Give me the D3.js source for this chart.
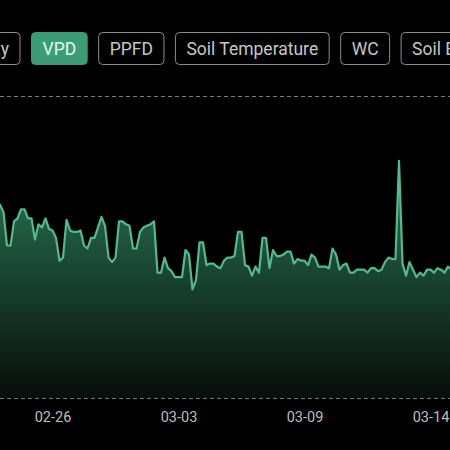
<!DOCTYPE html>
<html>
<head>
<meta charset="utf-8">
<script src="https://cdnjs.cloudflare.com/ajax/libs/d3/7.8.5/d3.min.js"></script>
<style>
  html, body { margin: 0; padding: 0; background: #000; overflow: hidden; }
  svg { display: block; font-family: Roboto, "Noto Sans", sans-serif; }
</style>
</head>
<body>
<div id="chart"></div>
<script>
// tabs across the top (the selected one is VPD)
var tabs = ["Temperature", "Humidity", "VPD", "PPFD", "Soil Temperature", "WC", "Soil EC"];
var activeTab = "VPD";

// VPD readings (kPa), one per sample
var vpd = [
  1.23, 1.28, 1.23, 1.01, 1.01, 1.17, 1.19, 1.25, 1.25, 1.19,
  1.19, 1.05, 1.15, 1.13, 1.19, 1.12, 1.11, 1.06, 0.91, 0.93,
  1.18, 1.11, 1.10, 1.10, 1.11, 1.01, 0.99, 1.06, 1.06, 1.13,
  1.20, 1.14, 0.93, 0.90, 0.93, 1.17, 1.17, 1.15, 1.14, 0.99,
  0.99, 1.10, 1.13, 1.14, 1.15, 1.17, 0.83, 0.83, 0.93, 0.86,
  0.84, 0.80, 0.80, 0.80, 0.98, 0.95, 0.72, 0.78, 1.03, 1.03,
  0.88, 0.89, 0.89, 0.87, 0.86, 0.91, 0.93, 0.93, 0.94, 1.10,
  1.10, 0.88, 0.87, 0.81, 0.87, 0.83, 1.06, 1.06, 0.86, 0.98,
  0.94, 0.94, 0.95, 0.97, 0.97, 0.89, 0.92, 0.91, 0.91, 0.88,
  0.95, 0.93, 0.87, 0.87, 0.87, 0.86, 0.99, 0.95, 0.85, 0.88,
  0.89, 0.83, 0.83, 0.85, 0.85, 0.85, 0.83, 0.86, 0.86, 0.84,
  0.85, 0.90, 0.93, 0.92, 0.92, 1.57, 0.89, 0.81, 0.90, 0.85,
  0.80, 0.83, 0.81, 0.85, 0.85, 0.83, 0.86, 0.85, 0.83, 0.87,
  0.85
];

// x-axis labels and the sample they sit under
var tickLabels = ["02-26", "03-03", "03-09", "03-14"];
var tickIndex = [16, 52, 88, 124];

var width = 450, height = 450;
var plotTop = 96, plotBottom = 398;

var svg = d3.select("#chart").append("svg")
    .attr("width", width)
    .attr("height", height)
    .style("background-color", "#000");

// scales
var x = d3.scaleLinear().domain([16, 124]).range([52.5, 430.5]);
var y = d3.scaleLinear().domain([0, 2]).range([plotBottom, plotTop]);

// gradient under the line
var defs = svg.append("defs");
var grad = defs.append("linearGradient")
    .attr("id", "vpd-fill")
    .attr("gradientUnits", "userSpaceOnUse")
    .attr("x1", 0).attr("x2", 0)
    .attr("y1", plotTop).attr("y2", plotBottom);
grad.append("stop").attr("offset", "0%").attr("stop-color", "#33946b");
grad.append("stop").attr("offset", "100%").attr("stop-color", "#070d0a");

// dashed grid lines (top and bottom)
svg.append("g")
    .attr("class", "y-grid")
    .selectAll("line")
    .data(y.domain())
  .enter().append("line")
    .attr("x1", 0).attr("x2", width)
    .attr("y1", function(d) { return Math.round(y(d)) + 0.5; })
    .attr("y2", function(d) { return Math.round(y(d)) + 0.5; })
    .style("stroke", "#7a7a7a")
    .style("stroke-width", 1)
    .style("stroke-dasharray", "4,3");

// area + line
var area = d3.area()
    .x(function(d, i) { return x(i); })
    .y0(y(0))
    .y1(function(d) { return y(d); });

var valueline = d3.line()
    .x(function(d, i) { return x(i); })
    .y(function(d) { return y(d); });

svg.append("path")
    .datum(vpd)
    .attr("d", area)
    .style("fill", "url(#vpd-fill)");

svg.append("path")
    .datum(vpd)
    .attr("d", valueline)
    .style("fill", "none")
    .style("stroke", "#52ba8c")
    .style("stroke-width", 2.2)
    .style("stroke-linejoin", "round");

// x axis labels
var xAxis = svg.append("g")
    .attr("class", "x axis")
    .attr("transform", "translate(0," + plotBottom + ")")
    .call(
      d3.axisBottom(x)
        .tickValues(tickIndex)
        .tickSize(0)
        .tickPadding(14)
        .tickFormat(function(d, i) { return tickLabels[i]; })
    );
xAxis.select(".domain").remove();
xAxis.selectAll("text")
    .style("font-family", "Roboto, sans-serif")
    .style("font-size", "14.5px")
    .style("fill", "#bdbdbd");

// tab buttons
var tabG = svg.append("g").attr("class", "tabs");
var btn = tabG.selectAll("g")
    .data(tabs)
  .enter().append("g");

btn.append("rect")
    .attr("y", 32.5)
    .attr("height", 32)
    .attr("rx", 4)
    .style("fill", function(d) { return d == activeTab ? "#3a9d75" : "none"; })
    .style("stroke", function(d) { return d == activeTab ? "#3a9d75" : "#8c8c8c"; })
    .style("stroke-width", 1);

btn.append("text")
    .attr("y", 54.5)
    .attr("text-anchor", "middle")
    .style("font-size", "17.5px")
    .style("fill", function(d) { return d == activeTab ? "#e4fbf0" : "#c6c6c6"; })
    .text(function(d) { return d; });

// lay the buttons out left to right, with VPD's box starting at x=31
var pad = 11, gap = 11.5;
var widths = [];
btn.select("text").each(function() { widths.push(this.getComputedTextLength() + 2 * pad); });
var active = tabs.indexOf(activeTab);
var lefts = [];
lefts[active] = 31.5;
for (var i = active + 1; i < tabs.length; i++) lefts[i] = lefts[i - 1] + widths[i - 1] + gap;
for (var i = active - 1; i >= 0; i--) lefts[i] = lefts[i + 1] - gap - widths[i];

btn.select("rect")
    .attr("x", function(d, i) { return lefts[i]; })
    .attr("width", function(d, i) { return widths[i]; });
btn.select("text")
    .attr("x", function(d, i) { return lefts[i] + widths[i] / 2; });
</script>
</body>
</html>
